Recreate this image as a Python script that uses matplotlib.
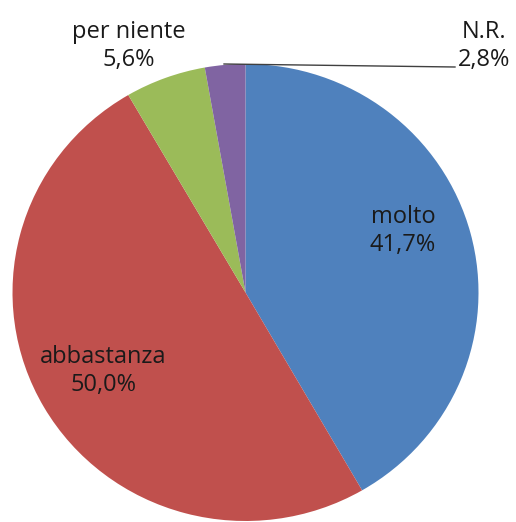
import matplotlib
matplotlib.use("Agg")
import matplotlib.pyplot as plt

labels = ["molto", "abbastanza", "per niente", "N.R."]
values = [41.7, 50.0, 5.6, 2.8]
pct_text = ["41,7%", "50,0%", "5,6%", "2,8%"]
colors = ["#4F81BD", "#C0504D", "#9BBB59", "#8064A2"]

fig = plt.figure(figsize=(5.16, 5.22), dpi=100)
# pie is slightly taller than wide in the reference, so aspect left free
ax = fig.add_axes([12.5 / 516, 1 / 522, 466 / 516, 457 / 522])
ax.pie(values, colors=colors, startangle=90, counterclock=False,
       radius=1.0, wedgeprops=dict(linewidth=0))
ax.set_aspect("auto")
ax.set_xlim(-1, 1)
ax.set_ylim(-1, 1)
ax.axis("off")

txt = dict(fontsize=17, color="#1a1a1a", ha="center", va="center",
           family="Open Sans", linespacing=1.2)

# data labels, placed in figure pixels
def fx(px):
    return px / 516

def fy(py):
    return 1 - py / 522

fig.text(fx(403), fy(231), f"{labels[0]}\n{pct_text[0]}", **txt)
fig.text(fx(103), fy(371), f"{labels[1]}\n{pct_text[1]}", **txt)
fig.text(fx(129), fy(46), f"{labels[2]}\n{pct_text[2]}", **txt)
fig.text(fx(484), fy(46), f"{labels[3]}\n{pct_text[3]}", **txt)

# leader line for N.R.
fig.add_artist(plt.Line2D([fx(224), fx(455)], [fy(64), fy(67)],
                          color="#404040", linewidth=1.0))

fig.savefig("out.png", dpi=100)
